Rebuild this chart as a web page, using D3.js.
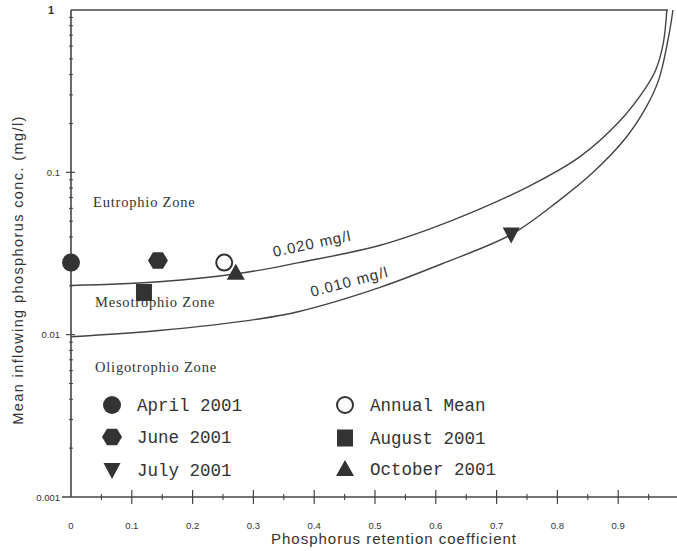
<!DOCTYPE html>
<html><head><meta charset="utf-8">
<script src="https://cdn.jsdelivr.net/npm/d3@7"></script>
<style>body{margin:0;background:#fff}svg{display:block}</style>
</head><body>
<script>
// ---- data ----
const seriesNames = ["April 2001","June 2001","July 2001","August 2001","October 2001","Annual Mean"];
const seriesShapes = ["circle","hexagon","triangleDown","square","triangle","openCircle"];
const retention = [0, 0.143, 0.724, 0.120, 0.271, 0.252];
const inflowP = [0.0278, 0.0286, 0.0414, 0.0182, 0.0241, 0.0278];

// critical lines
const curve020R = [0, 0.145, 0.276, 0.375, 0.507, 0.627, 0.753, 0.836, 0.901, 0.946, 0.962, 0.974, 0.980];
const curve020P = [0.0201, 0.0212, 0.0238, 0.0278, 0.0354, 0.0506, 0.082, 0.124, 0.204, 0.335, 0.43, 0.62, 1.0];
const curve010R = [0, 0.145, 0.309, 0.375, 0.507, 0.615, 0.724, 0.803, 0.857, 0.913, 0.946, 0.967, 0.984, 0.990];
const curve010P = [0.0097, 0.0106, 0.0125, 0.0139, 0.0195, 0.0278, 0.0414, 0.0672, 0.0986, 0.164, 0.252, 0.375, 0.721, 1.0];
const curveLabels = ["0.020 mg/l", "0.010 mg/l"];

const xTicks = [0,0.1,0.2,0.3,0.4,0.5,0.6,0.7,0.8,0.9];
const xTickLabels = ["0","0.1","0.2","0.3","0.4","0.5","0.6","0.7","0.8","0.9"];
const yTicks = [1,0.1,0.01,0.001];
const yTickLabels = ["1","0.1","0.01","0.001"];
const zoneLabels = ["Eutrophio Zone","Mesotrophio Zone","Oligotrophio Zone"];
const xTitle = "Phosphorus retention coefficient";
const yTitle = "Mean inflowing phosphorus conc. (mg/l)";

// ---- drawing ----
const W = 677, H = 551;
const ink = "#333", lineInk = "#444";
const svg = d3.select("body").append("svg").attr("width", W).attr("height", H);

const x = d3.scaleLinear().domain([0, 1]).range([71, 679]);
const y = d3.scaleLog().domain([0.001, 1]).range([497, 10]);

// axes lines
svg.append("line").attr("x1", x(0)).attr("x2", x(0)).attr("y1", y(1)).attr("y2", y(0.001))
  .attr("stroke", lineInk).attr("stroke-width", 1.6);
svg.append("line").attr("x1", x(0)).attr("x2", 668).attr("y1", y(1)).attr("y2", y(1))
  .attr("stroke", lineInk).attr("stroke-width", 1.6);
svg.append("line").attr("x1", 62).attr("x2", 677).attr("y1", y(0.001)).attr("y2", y(0.001))
  .attr("stroke", lineInk).attr("stroke-width", 1.3);

// x ticks (major + minor)
const xMinor = d3.range(0.05, 1.0, 0.1);
svg.selectAll(".xmaj").data(xTicks.slice(1)).enter().append("line")
  .attr("x1", d => x(d)).attr("x2", d => x(d)).attr("y1", y(0.001) - 7).attr("y2", y(0.001) + 7)
  .attr("stroke", lineInk).attr("stroke-width", 1.2);
svg.selectAll(".xmin").data(xMinor).enter().append("line")
  .attr("x1", d => x(d)).attr("x2", d => x(d)).attr("y1", y(0.001) - 3).attr("y2", y(0.001) + 3)
  .attr("stroke", lineInk).attr("stroke-width", 1.1);
svg.selectAll(".xlab").data(xTicks).enter().append("text")
  .attr("x", d => x(d)).attr("y", 529).attr("text-anchor", "middle")
  .attr("font-family", "Liberation Sans, Arial, sans-serif").attr("font-size", 9.5).attr("fill", ink)
  .text((d, i) => xTickLabels[i]);

// y ticks
const yMinor = [];
[0.001, 0.01, 0.1].forEach(b => { for (let k = 2; k <= 9; k++) yMinor.push(b * k); });
svg.selectAll(".ymin").data(yMinor).enter().append("line")
  .attr("x1", x(0) - 2).attr("x2", x(0) + 2).attr("y1", d => y(d)).attr("y2", d => y(d))
  .attr("stroke", lineInk).attr("stroke-width", 1);
svg.selectAll(".ymaj").data(yTicks.slice(1, 3)).enter().append("line")
  .attr("x1", x(0) - 5).attr("x2", x(0) + 4).attr("y1", d => y(d)).attr("y2", d => y(d))
  .attr("stroke", lineInk).attr("stroke-width", 1.2);
svg.selectAll(".ylab").data(yTicks).enter().append("text")
  .attr("x", (d, i) => i === 0 ? 54 : 60).attr("y", d => y(d) + 3.5).attr("text-anchor", "end")
  .attr("font-family", "Liberation Sans, Arial, sans-serif").attr("font-size", d => d === 1 ? 11 : 9.5)
  .attr("font-weight", d => d === 1 ? "bold" : "normal").attr("fill", ink)
  .text((d, i) => yTickLabels[i]);

// axis titles
svg.append("text").attr("x", 394).attr("y", 544).attr("text-anchor", "middle")
  .attr("font-family", "Liberation Sans, Arial, sans-serif").attr("font-size", 15)
  .attr("letter-spacing", 1.0).attr("fill", ink).text(xTitle);
svg.append("text").attr("transform", "translate(23,270) rotate(-90)").attr("text-anchor", "middle")
  .attr("font-family", "Liberation Sans, Arial, sans-serif").attr("font-size", 14.5)
  .attr("letter-spacing", 1.4).attr("fill", ink).text(yTitle);

// critical curves
const line = d3.line().x(d => x(d[0])).y(d => y(d[1])).curve(d3.curveCatmullRom.alpha(0.5));
const c020 = curve020R.map((r, i) => [r, curve020P[i]]);
const c010 = curve010R.map((r, i) => [r, curve010P[i]]);
[c020, c010].forEach(c => svg.append("path").attr("d", line(c)).attr("fill", "none")
  .attr("stroke", lineInk).attr("stroke-width", 1.4));

// curve labels
svg.append("text").attr("transform", "translate(274,257) rotate(-12)")
  .attr("font-family", "Liberation Sans, Arial, sans-serif").attr("font-size", 15)
  .attr("letter-spacing", 1).attr("fill", ink).text(curveLabels[0]);
svg.append("text").attr("transform", "translate(312,297) rotate(-15)")
  .attr("font-family", "Liberation Sans, Arial, sans-serif").attr("font-size", 15)
  .attr("letter-spacing", 1).attr("fill", ink).text(curveLabels[1]);

// zone labels
const zoneY = [207, 307, 372];
const zoneX = [93, 95, 95];
zoneLabels.forEach((t, i) => svg.append("text").attr("x", zoneX[i]).attr("y", zoneY[i])
  .attr("font-family", "Liberation Serif, Times New Roman, serif").attr("font-size", 14.5)
  .attr("letter-spacing", 0.8).attr("fill", ink).text(t));

// marker drawing
function marker(g, shape, cx, cy) {
  const s = g.append("g").attr("transform", `translate(${cx},${cy})`);
  if (shape === "circle") s.append("circle").attr("r", 9).attr("fill", ink);
  else if (shape === "openCircle") s.append("circle").attr("r", 8).attr("fill", "#fff").attr("stroke", ink).attr("stroke-width", 2);
  else if (shape === "hexagon") {
    const pts = d3.range(6).map(k => { const a = Math.PI / 3 * k; return [10 * Math.cos(a), 9.5 * Math.sin(a)]; });
    s.append("polygon").attr("points", pts.map(p => p.join(",")).join(" ")).attr("fill", ink);
  }
  else if (shape === "square") s.append("rect").attr("x", -8).attr("y", -8.5).attr("width", 16).attr("height", 17).attr("fill", ink);
  else if (shape === "triangle") s.append("polygon").attr("points", "0,-9 9,7 -9,7").attr("fill", ink);
  else if (shape === "triangleDown") s.append("polygon").attr("points", "-8.5,-7 8.5,-7 0,9").attr("fill", ink);
}

const pts = svg.append("g");
seriesNames.forEach((n, i) => marker(pts, seriesShapes[i], x(retention[i]), y(inflowP[i])));

// legend
const legX = [112, 112, 112, 345, 345, 345];
const legY = [405, 437, 470, 405, 438, 469];
const legOrder = [0, 1, 2, 5, 3, 4];
legOrder.forEach((si, k) => {
  marker(svg, seriesShapes[si], legX[k], legY[k]);
  svg.append("text").attr("x", legX[k] + 25).attr("y", legY[k] + 6)
    .attr("font-family", "Liberation Mono, Courier New, monospace").attr("font-size", 17.5)
    .attr("fill", ink).text(seriesNames[si]);
});
</script>
</body></html>
